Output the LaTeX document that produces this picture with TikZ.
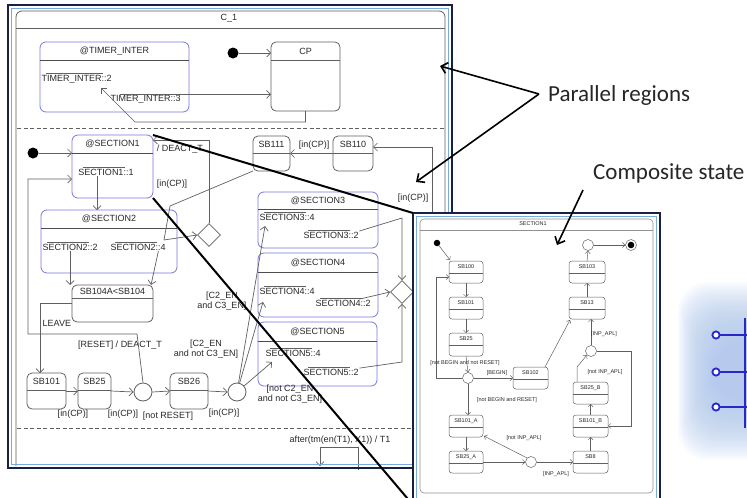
\documentclass[tikz,border=0pt]{standalone}
\usepackage{fontspec}
\usetikzlibrary{arrows.meta,shapes.geometric,calc}
\newfontfamily\diagfam{Liberation Sans}
\newfontfamily\callfam{Carlito}
\newcommand\diagfont{\diagfam\fontsize{9}{10}\selectfont}
\newcommand\minifont{\diagfam\fontsize{5.5}{6.2}\selectfont}
\newcommand\calloutfont{\callfam\fontsize{23}{26}\selectfont}
\definecolor{winnavy}{RGB}{24,34,64}
\definecolor{winblue}{RGB}{120,170,222}
\definecolor{boxgray}{RGB}{96,96,96}
\definecolor{secblue}{RGB}{120,120,222}
\definecolor{txt}{RGB}{40,40,40}
\definecolor{iconblue}{RGB}{40,40,200}
\definecolor{haze}{RGB}{176,200,238}

% state box: name, style, x1, y1, x2, y2, title-bar height, title
\newcommand\mkstate[8]{%
  \node[#2, anchor=north west, minimum width={#5-#3}, minimum height={#6-#4}] (#1) at (#3,#4) {};
  \draw[#2 sep] (#3,{#4+#7}) -- (#5,{#4+#7});
  \node[#2 title] at ({(#3+#5)/2},{#4+#7/2}) {#8};
}
% overline across the middle of a port label
\newcommand\portbar[1]{\draw[boxgray, line width=0.6pt] ([xshift=5pt,yshift=0.6pt]#1.north west) -- ([xshift=-9pt,yshift=0.6pt]#1.north east);}

\begin{document}
\begin{tikzpicture}[x=1pt,y=-1pt,
  mstate/.style={draw=boxgray, line width=0.8pt, rounded corners=5pt, inner sep=0, outer sep=0},
  mstate sep/.style={draw=boxgray, line width=0.8pt},
  mstate title/.style={font=\diagfont, text=txt, inner sep=0},
  msec/.style={draw=secblue, line width=0.8pt, rounded corners=6pt, inner sep=0, outer sep=0},
  msec sep/.style={draw=boxgray!80!black, line width=0.8pt},
  msec title/.style={font=\diagfont, text=txt, inner sep=0},
  cstate/.style={draw=boxgray, line width=0.5pt, rounded corners=3pt, inner sep=0, outer sep=0},
  cstate sep/.style={draw=boxgray, line width=0.5pt},
  cstate title/.style={font=\minifont, text=txt, inner sep=0},
  lbl/.style={font=\diagfont, text=txt, inner sep=0.5pt},
  mlbl/.style={font=\minifont, text=txt, inner sep=0.3pt},
  arr/.style={draw=boxgray, line width=0.7pt, -{Straight Barb[length=4pt,width=8pt]}},
  plain/.style={draw=boxgray, line width=0.7pt},
  carr/.style={draw=boxgray, line width=0.5pt, -{Straight Barb[length=2.5pt,width=5pt]}},
  dot/.style={circle, fill=black, minimum size=11pt, inner sep=0},
  junc/.style={circle, draw=boxgray, line width=0.8pt, minimum size=18pt, inner sep=0, fill=white},
  cjunc/.style={circle, draw=boxgray, line width=0.5pt, minimum size=11pt, inner sep=0, fill=white},
  dia/.style={diamond, draw=boxgray, line width=0.8pt, minimum width=23pt, minimum height=23pt, inner sep=0, fill=white},
  callarr/.style={draw=black, line width=1.6pt, -{Straight Barb[length=6pt,width=11pt,line width=1.6pt]}},
  zoomline/.style={draw=black, line width=2pt}]
\useasboundingbox (0,0) rectangle (747,498);
\clip (0,0) rectangle (747,498);
\fill[white] (0,0) rectangle (747,498);

% soft blue icon at the right edge
\foreach \i in {0,...,29}{
  \fill[haze, opacity=0.06, rounded corners=30pt] ({678+\i*1.2},{282+\i*2.1}) rectangle (790,{460-\i*2.1});
}
\draw[iconblue, line width=2pt] (745,318) -- (745,428);
\foreach \yy in {335,372,407}{
  \draw[iconblue, line width=2pt] (720,\yy) -- (747,\yy);
  \draw[iconblue, line width=1.8pt, fill=white] (716,\yy) circle (3.6);
}

% ---------------- chart C_1 ----------------
\draw[boxgray, line width=0.8pt, rounded corners=6pt] (16,466) -- (16,11) -- (445,11) -- (445,466);
\draw[boxgray, line width=0.8pt] (16,28) -- (445,28);
\node[lbl] (c1) at (229,18) {C\_1};
\draw[boxgray, line width=0.8pt, dash pattern=on 4pt off 2.5pt] (17,128) -- (444,128);
\draw[boxgray, line width=0.8pt, dash pattern=on 4pt off 2.5pt] (17,428) -- (444,428);

% region 1
\mkstate{timer}{msec}{40}{42}{189}{112}{18}{@TIMER\_INTER}
\mkstate{cp}{mstate}{271}{42}{340}{111}{18}{CP}
\node[dot] (init1) at (233,53) {};
\draw[arr] (init1) -- (init1 -| cp.west);
\node[lbl, anchor=west] (t2) at (41,79) {TIMER\_INTER::2};
\portbar{t2}
\node[lbl, anchor=west] (t3) at (110,99) {TIMER\_INTER::3};
\draw[arr] ([xshift=10pt]t3.north west) -- (t3.north west -| cp.west);
\coordinate (t2in) at (101,88);
\draw[arr] (cp.south) |- (135,122) -- (t2in);

% region 2
\node[dot] (init2) at (33,153) {};
\mkstate{sec1}{msec}{72}{135}{153}{198}{18}{@SECTION1}
\draw[arr] (init2) -- (init2 -| sec1.west);
\node[lbl] (s11) at (106,172) {SECTION1::1};
\portbar{s11}
\mkstate{sec2}{msec}{41}{210}{177}{273}{18}{@SECTION2}
\draw[arr] ([xshift=-9pt]s11.south) -- ([xshift=-9pt]s11.south |- sec2.north);
\node[lbl, anchor=west] (s22) at (42,247) {SECTION2::2};
\node[lbl, anchor=west] (s24) at (110,247) {SECTION2::4};
\portbar{s22}
\portbar{s24}
\mkstate{sb104}{mstate}{72}{285}{153}{322}{13}{SB104A<SB104}
\draw[arr] (s22.south) -- (s22.south |- sb104.north);
\draw[arr] ([xshift=-8pt]s24.south east) -- ([xshift=-2pt]sb104.north east);

\mkstate{sb101}{mstate}{27}{373}{66}{409}{17}{SB101}
\mkstate{sb25}{mstate}{78}{373}{111}{409}{17}{SB25}
\node[junc] (j1) at (143,392) {};
\mkstate{sb26}{mstate}{170}{373}{208}{409}{17}{SB26}
\node[junc] (j2) at (237,392) {};
\draw[arr] (sb104.west) -| ([xshift=-6.5pt]sb101.north);
\node[lbl, anchor=west] at (42,323) {LEAVE};
\draw[arr] (sb101.east) -- (sb25.west);
\draw[arr] (sb25.east) -- (j1.west);
\draw[arr] (j1.east) -- (sb26.west);
\draw[arr] (sb26.east) -- (j2.west);
\node[lbl] at (73,414) {[in(CP)]};
\node[lbl] at (123,414) {[in(CP)]};
\node[lbl] at (168,416) {[not RESET]};
\node[lbl] at (224,413) {[in(CP)]};
\node[lbl] at (120,345) {[RESET] / DEACT\_T};
\coordinate (rl) at (28,179);
\draw[arr] (j1.north) -- (137,334) -- (28,334) -- (rl) -- (rl -| sec1.west);

% sections 3 to 5
\mkstate{sec3}{msec}{258}{192}{378}{248}{17}{@SECTION3}
\mkstate{sec4}{msec}{258}{253}{378}{317}{19}{@SECTION4}
\mkstate{sec5}{msec}{258}{322}{377}{386}{19}{@SECTION5}
\node[lbl, anchor=west] (s34) at (259,217) {SECTION3::4};
\node[lbl, anchor=west] (s32) at (303,235) {SECTION3::2};
\node[lbl, anchor=west] (s44) at (259,291) {SECTION4::4};
\node[lbl, anchor=west] (s42) at (315,303) {SECTION4::2};
\node[lbl, anchor=west] (s54) at (265,353) {SECTION5::4};
\node[lbl, anchor=west] (s52) at (303,372) {SECTION5::2};
\foreach \n in {s34,s32,s44,s42,s54,s52}{\portbar{\n}}
\coordinate (in3) at (265,226);
\coordinate (in4) at (263,302);
\coordinate (in5) at (272,362);
\draw[arr] (j2) -- (in3);
\draw[arr] (j2) -- (in4);
\draw[arr] (j2) -- (in5);
\node[lbl, align=center] at (222,301) {[C2\_EN\\and C3\_EN]};
\node[lbl, align=center] at (206,349) {[C2\_EN\\and not C3\_EN]};
\node[lbl, align=center] at (290,394) {[not C2\_EN\\and not C3\_EN]};

\node[dia] (d2) at (402,292) {};
\draw[arr] ([yshift=4pt]s32.east) -- (402,218) -- (d2.north);
\draw[arr] ([xshift=-12pt]s42.north east) -- (d2.west);
\draw[arr] (s52.north east) -- (402,362) -- (d2.south);

\mkstate{sb111}{mstate}{253}{136}{290}{171}{17}{SB111}
\mkstate{sb110}{mstate}{333}{136}{373}{171}{17}{SB110}
\draw[arr] (sb110.west) -- (sb111.east);
\node[lbl] at (314,145) {[in(CP)]};
\draw[arr] (d2.east) -- (432,292) -- (432,147) -- ([yshift=6.5pt]sb110.east);
\node[lbl] at (413,198) {[in(CP)]};

\node[dia] (d1) at (209,235) {};
\draw[plain] (sb111.south west) -- (170,206) -- (164,240);
\draw[arr] (164,240) -- (d1.west);
\coordinate (dk) at (209,140);
\draw[arr] (d1.north) -- (dk) -- (dk -| sec1.east);
\node[lbl] at (180,149) {/ DEACT\_T};
\node[lbl] at (172,184) {[in(CP)]};

% region 3
\node[lbl] at (340,440) {after(tm(en(T1), X1)) / T1};
\draw[arr] (358,470) -- (358,447) -- (320,447) -- (320,466);

% window frame
\draw[winblue, line width=1.2pt] (11.5,8.5) rectangle (448.5,464.5);
\draw[winnavy, line width=2.5pt] (8,5) rectangle (452,468);

% ---------------- composite state SECTION1 ----------------
\node[draw=winnavy, line width=2.5pt, fill=white, anchor=north west, minimum width=247pt, minimum height=292pt, inner sep=0, outer sep=0] (comp) at (413,213) {};
\draw[winblue, line width=1.2pt] (416.5,505) -- (416.5,216.5) -- (656.5,216.5) -- (656.5,505);
\draw[boxgray!70, line width=0.6pt, rounded corners=4pt] (420,219) rectangle (653,493);
\draw[boxgray!70, line width=0.6pt] (420,230) -- (653,230);
\node[mlbl] at (533,224) {SECTION1};

\node[circle, fill=black, minimum size=6.5pt, inner sep=0] (cdot) at (437,243) {};
\mkstate{cb100}{cstate}{449}{261}{483}{283}{12}{SB100}
\mkstate{cb101}{cstate}{449}{297}{483}{319}{12}{SB101}
\mkstate{cb25}{cstate}{449}{333}{483}{356}{12}{SB25}
\node[cjunc] (cj1) at (468,378) {};
\mkstate{cb102}{cstate}{513}{367}{548}{389}{12}{SB102}
\mkstate{cb101a}{cstate}{449}{415}{483}{437}{12}{SB101\_A}
\mkstate{cb25a}{cstate}{449}{451}{483}{473}{12}{SB25\_A}
\node[cjunc] (cj2) at (531,462) {};
\mkstate{cb8}{cstate}{573}{451}{608}{473}{12}{SB8}
\mkstate{cb101b}{cstate}{573}{415}{608}{437}{12}{SB101\_B}
\mkstate{cb25b}{cstate}{573}{382}{608}{404}{12}{SB25\_B}
\node[cjunc] (cj3) at (591,351) {};
\mkstate{cb13}{cstate}{569}{297}{605}{319}{12}{SB13}
\mkstate{cb103}{cstate}{569}{261}{605}{283}{12}{SB103}
\node[cjunc] (cj4) at (588,245) {};
\node[circle, draw=boxgray, line width=0.5pt, minimum size=11pt, inner sep=0] (fin) at (631,245) {};
\fill[black] (fin.center) circle (3.3);

\draw[carr] (cdot) -- ([xshift=1pt,yshift=1pt]cb100.north west);
\draw[carr] (cj1.west) -- (436,378) -- (436,277) -- ([yshift=-5pt]cb100.west);
\draw[carr] (cb100.south) -- (cb101.north);
\draw[carr] (cb101.south) -- (cb25.north);
\draw[carr] (cb25.south) -- (cj1.north);
\draw[carr] (cj1.east) -- (cb102.west);
\draw[carr] (cj1.south) -- (cj1.south |- cb101a.north);
\draw[carr] (cb101a.south) -- (cb25a.north);
\draw[carr] (cb25a.east) -- (cj2.west);
\draw[carr] (cj2.north west) -- ([xshift=1pt,yshift=1pt]cb101a.south east);
\draw[carr] (cj2.east) -- (cb8.west);
\draw[carr] (cb8.north) -- (cb101b.south);
\draw[carr] (cb101b.north) -- (cb25b.south);
\draw[carr] ([xshift=4pt]cb25b.north west) -- ++(0,-15) -- (cj3.south west);
\draw[carr] (cj3.north) -- (cj3.north |- cb13.south);
\draw[carr] (cj3.east) -- ++(34,0) |- (cb101b.east);
\draw[carr] (cb13.north) -- (cb103.south);
\draw[carr] (cb103.north) -- (cj4.south);
\draw[carr] (cj4.east) -- (fin.west);
\draw[carr] ([xshift=-3pt]cb102.north east) -- ([xshift=1pt,yshift=-1pt]cb13.south west);

\node[mlbl] at (465,363) {[not BEGIN and not RESET]};
\node[mlbl] at (497,373) {[BEGIN]};
\node[mlbl] at (507,400) {[not BEGIN and RESET]};
\node[mlbl] at (524,438) {[not INP\_APL]};
\node[mlbl] at (556,474) {[INP\_APL]};
\node[mlbl] at (604,334) {[INP\_APL]};
\node[mlbl] at (605,372) {[not INP\_APL]};

% magnification lines
\draw[zoomline] (sec1.north east) -- (comp.north west);
\draw[zoomline] (sec1.south east) -- (comp.south west);

% callouts
\node[font=\calloutfont, text=black!85, anchor=west, inner sep=0] (pr) at (548,95) {Parallel regions};
\node[font=\calloutfont, text=black!85, anchor=west, inner sep=0] (cs) at (593,173) {Composite state};
\coordinate (pra) at (440,66);
\coordinate (prb) at (416,182);
\coordinate (csa) at (557,245);
\draw[callarr] ([xshift=-9pt,yshift=1pt]pr.west) -- (pra);
\draw[callarr] ([xshift=-9pt,yshift=1pt]pr.west) -- (prb);
\draw[callarr] ([xshift=-10pt,yshift=-17pt]cs.west) -- (csa);
\end{tikzpicture}
\end{document}
